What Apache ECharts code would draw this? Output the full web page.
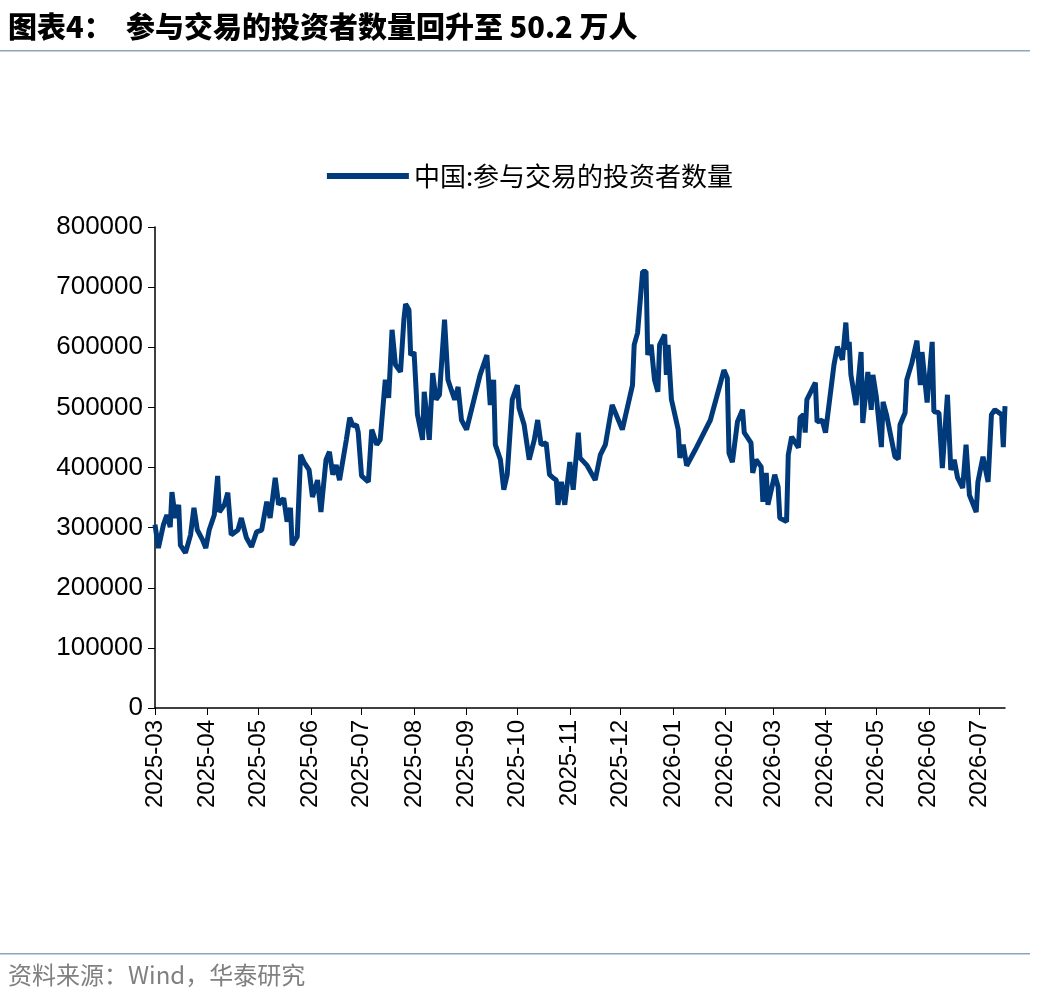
<!DOCTYPE html>
<html><head><meta charset="utf-8">
<script src="https://cdn.jsdelivr.net/npm/echarts@6/dist/echarts.min.js"></script>
<style>html,body{margin:0;padding:0;background:#fff}#c{width:1060px;height:999px}</style>
</head><body><div id="c"></div>
<script>
const seriesName = '中国:参与交易的投资者数量';
const dates = ['2025-03-01','2025-03-03','2025-03-06','2025-03-08','2025-03-10','2025-03-11','2025-03-13','2025-03-15','2025-03-16','2025-03-19','2025-03-22','2025-03-24','2025-03-26','2025-03-29','2025-03-31',
'2025-04-02','2025-04-05','2025-04-07','2025-04-08','2025-04-11','2025-04-13','2025-04-15','2025-04-19','2025-04-21','2025-04-24','2025-04-27','2025-04-30',
'2025-05-03','2025-05-06','2025-05-08','2025-05-11','2025-05-13','2025-05-16','2025-05-18','2025-05-20','2025-05-21','2025-05-24','2025-05-26','2025-05-28','2025-05-31',
'2025-06-02','2025-06-05','2025-06-07','2025-06-10','2025-06-12','2025-06-14','2025-06-16','2025-06-18','2025-06-22','2025-06-24','2025-06-26','2025-06-28','2025-06-29',
'2025-07-01','2025-07-05','2025-07-07','2025-07-10','2025-07-12','2025-07-15','2025-07-17','2025-07-19','2025-07-21','2025-07-24','2025-07-26','2025-07-27','2025-07-29','2025-07-30',
'2025-08-01','2025-08-03','2025-08-06','2025-08-07','2025-08-10','2025-08-12','2025-08-14','2025-08-16','2025-08-19','2025-08-21','2025-08-23','2025-08-25','2025-08-27','2025-08-29',
'2025-09-01','2025-09-09','2025-09-13','2025-09-15','2025-09-17','2025-09-18','2025-09-21','2025-09-23','2025-09-25','2025-09-28',
'2025-10-01','2025-10-02','2025-10-05','2025-10-08','2025-10-11','2025-10-13','2025-10-15','2025-10-18','2025-10-20','2025-10-22','2025-10-24','2025-10-25','2025-10-27','2025-10-29',
'2025-11-01','2025-11-03','2025-11-06','2025-11-07','2025-11-11','2025-11-16','2025-11-19','2025-11-22','2025-11-26',
'2025-12-02','2025-12-08','2025-12-09','2025-12-11','2025-12-14','2025-12-16','2025-12-17','2025-12-19','2025-12-21','2025-12-23','2025-12-24','2025-12-27','2025-12-28','2025-12-29','2025-12-31',
'2026-01-04','2026-01-05','2026-01-07','2026-01-09','2026-01-14','2026-01-23','2026-01-29','2026-01-31',
'2026-02-02','2026-02-03','2026-02-05','2026-02-08','2026-02-11','2026-02-12','2026-02-16','2026-02-17','2026-02-19','2026-02-22','2026-02-23','2026-02-25','2026-02-26',
'2026-03-02','2026-03-04','2026-03-05','2026-03-09','2026-03-10','2026-03-12','2026-03-16','2026-03-17','2026-03-19','2026-03-20','2026-03-21','2026-03-26','2026-03-27','2026-03-30',
'2026-04-01','2026-04-06','2026-04-08','2026-04-11','2026-04-13','2026-04-14','2026-04-15','2026-04-16','2026-04-19','2026-04-22','2026-04-23','2026-04-26','2026-04-28','2026-04-29',
'2026-05-01','2026-05-04','2026-05-05','2026-05-07','2026-05-12','2026-05-14','2026-05-15','2026-05-18','2026-05-19','2026-05-22','2026-05-25','2026-05-27','2026-05-28','2026-05-31',
'2026-06-03','2026-06-04','2026-06-07','2026-06-09','2026-06-12','2026-06-14','2026-06-16','2026-06-18','2026-06-21','2026-06-23','2026-06-25','2026-06-29','2026-06-30',
'2026-07-03','2026-07-06','2026-07-08','2026-07-10','2026-07-14','2026-07-15','2026-07-16'];
const values = [305000,266000,305000,321000,301000,359000,316000,338000,271000,258000,288000,333000,296000,280000,266000,
296000,321000,386000,326000,338000,358000,288000,296000,316000,283000,268000,293000,
296000,343000,316000,383000,338000,349000,310000,333000,271000,285000,421000,409000,396000,
351000,379000,326000,413000,426000,388000,404000,379000,446000,483000,469000,471000,459000,
386000,376000,463000,438000,446000,546000,516000,629000,571000,559000,646000,672000,662000,587000,
592000,488000,446000,526000,446000,557000,513000,521000,646000,546000,529000,513000,534000,479000,
463000,554000,587000,504000,546000,438000,413000,363000,388000,513000,
537000,499000,471000,413000,446000,479000,438000,441000,388000,383000,379000,338000,376000,338000,
409000,363000,458000,416000,404000,379000,421000,438000,504000,
463000,537000,604000,624000,726000,726000,587000,604000,546000,526000,604000,621000,554000,604000,513000,
463000,416000,438000,403000,429000,479000,541000,562000,
549000,424000,409000,476000,496000,458000,441000,391000,413000,401000,343000,391000,338000,
388000,368000,316000,310000,421000,451000,433000,483000,488000,458000,513000,541000,476000,479000,
458000,571000,601000,579000,641000,596000,609000,554000,504000,592000,474000,559000,496000,554000,
518000,434000,509000,488000,418000,414000,471000,491000,546000,574000,611000,537000,592000,508000,
609000,493000,491000,399000,521000,396000,413000,383000,366000,438000,354000,326000,376000,
418000,376000,488000,496000,488000,434000,502000];
const yTicks = [0,100000,200000,300000,400000,500000,600000,700000,800000];

const chart = echarts.init(document.getElementById('c'));
const font = 'Arial, "Liberation Sans", sans-serif';
chart.setOption({
  backgroundColor:'#fff',
  animation:false,
  graphic:[
    {type:'text',left:8,top:12,style:{text:'图表4：  参与交易的投资者数量回升至 50.2 万人',font:'900 29px "Noto Sans CJK SC", sans-serif',fill:'#000'}},
    {type:'rect',shape:{x:0,y:50,width:1030,height:1.5},style:{fill:'#8ea3bd'}},
    {type:'rect',shape:{x:0,y:953,width:1030,height:1.5},style:{fill:'#8ea3bd'}},
    {type:'text',left:8,top:963,style:{text:'资料来源：Wind，华泰研究',font:'24px "Noto Sans CJK SC", sans-serif',fill:'#808080'}}
  ],
  legend:{top:158,left:'center',itemWidth:82,itemHeight:6,itemGap:10,textStyle:{fontSize:26,color:'#000',fontFamily:'"Noto Sans CJK SC", sans-serif'},
    data:[{name:seriesName,icon:'rect'}]},
  grid:{left:155,right:55,top:227,bottom:291,containLabel:false},
  xAxis:{type:'time',min:'2025-03-01',max:'2026-07-16',
    minInterval:28*86400000,maxInterval:31*86400000,
    axisLine:{lineStyle:{color:'#000',width:1.5}},
    axisTick:{show:true,length:7,lineStyle:{color:'#000'}},
    splitLine:{show:false},
    axisLabel:{rotate:90,fontSize:24,color:'#000',fontFamily:font,margin:12,hideOverlap:false,
      formatter:v=>{const d=new Date(v);return d.getFullYear()+'-'+String(d.getMonth()+1).padStart(2,'0');}}},
  yAxis:{type:'value',min:0,max:800000,interval:100000,
    axisLine:{show:true,lineStyle:{color:'#000',width:1.5}},
    axisTick:{show:true,length:7,lineStyle:{color:'#000'}},
    splitLine:{show:false},
    axisLabel:{fontSize:26,color:'#000',fontFamily:font,margin:12,formatter:v=>yTicks.includes(v)?String(v):''}},
  series:[{name:seriesName,type:'line',showSymbol:false,
    lineStyle:{color:'#003a7a',width:5},itemStyle:{color:'#003a7a'},
    data:dates.map((d,i)=>[d,values[i]])}]
});
</script></body></html>
